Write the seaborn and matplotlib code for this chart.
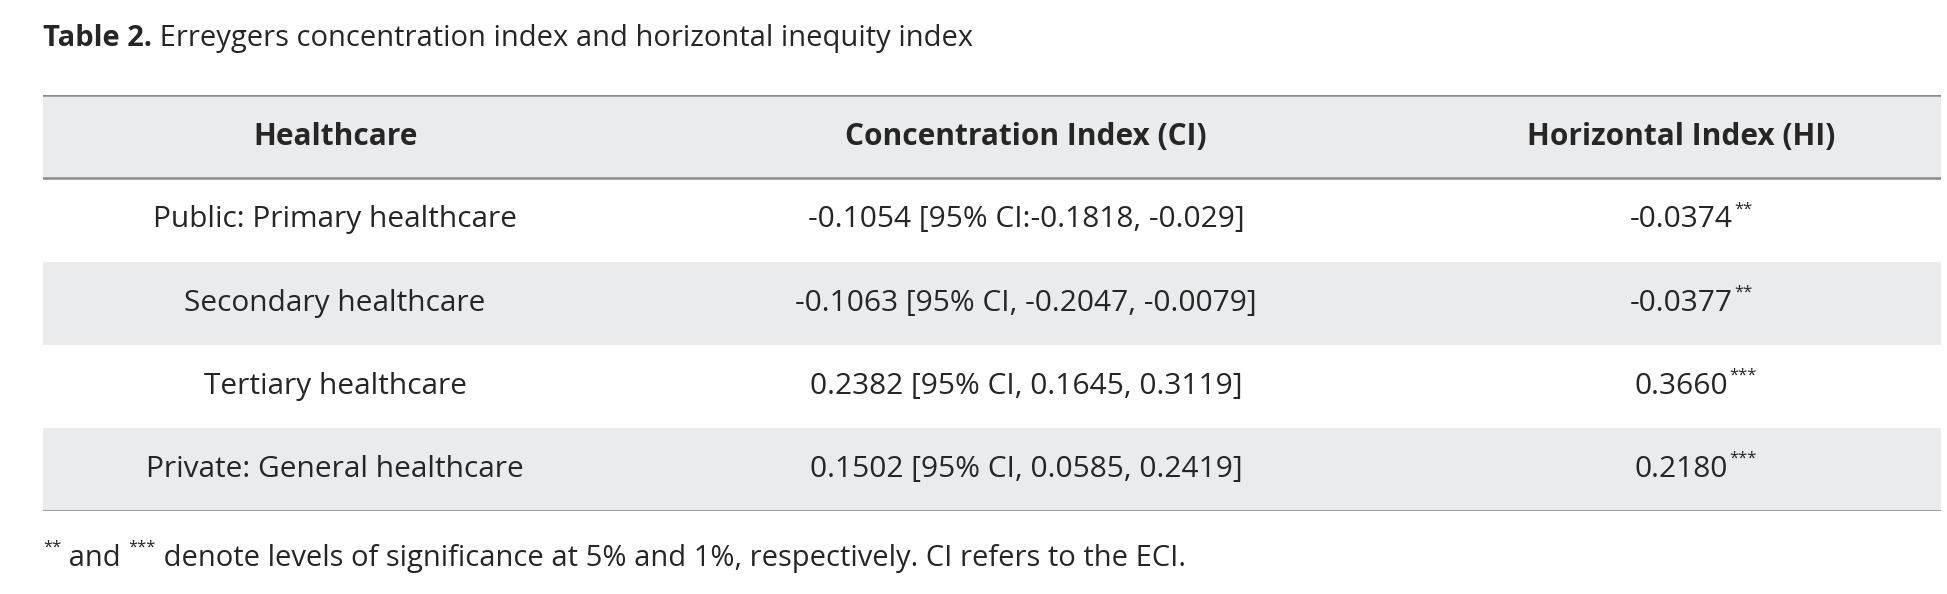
import numpy as np
import matplotlib
matplotlib.use("Agg")
import matplotlib.pyplot as plt
from matplotlib.colors import ListedColormap
import seaborn as sns

# ---- data ----
headers = ["Healthcare", "Concentration Index (CI)", "Horizontal Index (HI)"]
care = ["Public: Primary healthcare", "Secondary healthcare",
        "Tertiary healthcare", "Private: General healthcare"]
ci_text = ["-0.1054 [95% CI:-0.1818, -0.029]", "-0.1063 [95% CI, -0.2047, -0.0079]",
           "0.2382 [95% CI, 0.1645, 0.3119]", "0.1502 [95% CI, 0.0585, 0.2419]"]
hi_vals = ["-0.0374", "-0.0377", "0.3660", "0.2180"]
hi_stars = ["**", "**", "***", "***"]
title_bold = "Table 2."
title_rest = " Erreygers concentration index and horizontal inequity index"
foot_rest = " denote levels of significance at 5% and 1%, respectively. CI refers to the ECI."

sns.set_theme(style="white")
plt.rcParams["font.family"] = ["Open Sans", "DejaVu Sans"]

fig = plt.figure(figsize=(19.47, 5.94), dpi=100)
ax = fig.add_axes([0.022, 0.139, 0.975, 0.701])

# band pattern: header and even rows grey
bands = np.array([[1], [0], [1], [0], [1]])
sns.heatmap(bands, cmap=ListedColormap(["white", "#EAEBED"]), cbar=False,
            xticklabels=False, yticklabels=False, ax=ax)
ax.set_xlim(0, 1)
for y in [0, 1, 5]:
    ax.axhline(y, color="#8A8A8A", lw=1.8)
for s in ax.spines.values():
    s.set_visible(False)

xs = [0.154, 0.518, 0.863]
fs = 21.5
for x, h in zip(xs, headers):
    ax.text(x, 0.5, h, ha="center", va="center", fontsize=fs, fontweight="bold")
for i in range(4):
    y = i + 1.5
    ax.text(xs[0], y, care[i], ha="center", va="center", fontsize=fs)
    ax.text(xs[1], y, ci_text[i], ha="center", va="center", fontsize=fs)
    t = ax.text(xs[2], y, hi_vals[i], ha="center", va="center", fontsize=fs)
    ax.annotate(hi_stars[i], xy=(1, 1), xycoords=t, xytext=(1, 3),
                textcoords="offset points", fontsize=12, va="top", ha="left")

# title
fig.canvas.draw()
t1 = fig.text(0.022, 0.935, title_bold, fontsize=21, fontweight="bold", va="center")
fig.canvas.draw()
bb = t1.get_window_extent().transformed(fig.transFigure.inverted())
fig.text(bb.x1, 0.935, title_rest, fontsize=21, va="center")

# footnote
s1 = fig.text(0.022, 0.078, "**", fontsize=12, va="center")
fig.canvas.draw()
b1 = s1.get_window_extent().transformed(fig.transFigure.inverted())
a1 = fig.text(b1.x1, 0.06, " and ", fontsize=21, va="center")
fig.canvas.draw()
b2 = a1.get_window_extent().transformed(fig.transFigure.inverted())
s2 = fig.text(b2.x1, 0.078, "***", fontsize=12, va="center")
fig.canvas.draw()
b3 = s2.get_window_extent().transformed(fig.transFigure.inverted())
fig.text(b3.x1, 0.06, foot_rest, fontsize=21, va="center")

fig.savefig("out.png", dpi=100)
